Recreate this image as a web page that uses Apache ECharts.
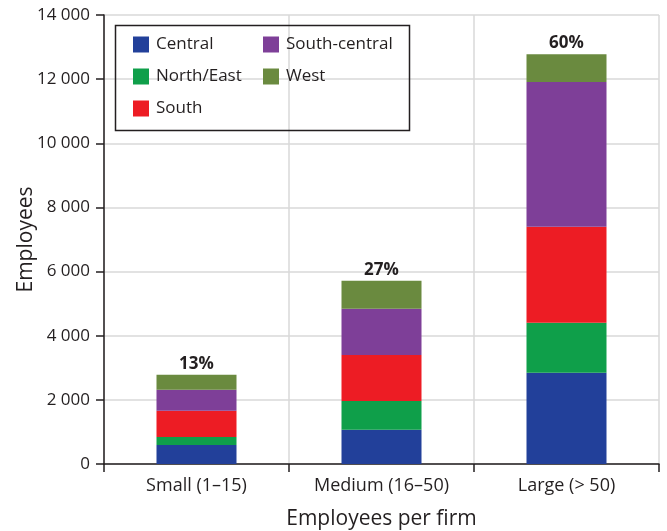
<!DOCTYPE html>
<html>
<head>
<meta charset="utf-8">
<script src="https://cdn.jsdelivr.net/npm/echarts@6/dist/echarts.min.js"></script>
<style>
  html, body { margin: 0; padding: 0; background: #fff; }
  #chart { width: 667px; height: 531px; }
</style>
</head>
<body>
<div id="chart"></div>
<script>
// Firm size classes
const categories = ['Small (1\u201315)', 'Medium (16\u201350)', 'Large (> 50)'];

// Employees by region, per firm size class
const central      = [590, 1070, 2845];
const northEast    = [250, 895, 1560];
const south        = [820, 1435, 2990];
const southCentral = [655, 1440, 4515];
const west         = [465, 870, 870];

// Share of all employees in each size class
const shares = ['13%', '27%', '60%'];

// Y axis ticks
const yMin = 0, yMax = 14000, yStep = 2000;

const FONT = '"Open Sans", "Noto Sans", sans-serif';
const TXT = '#231f20';

const seriesDefs = [
  { name: 'Central', data: central, color: '#22409a' },
  { name: 'North/East', data: northEast, color: '#0f9f4a' },
  { name: 'South', data: south, color: '#ed1c24' },
  { name: 'South-central', data: southCentral, color: '#7e3f98' },
  { name: 'West', data: west, color: '#6a8a3f' }
];

const fmtThousands = v => String(v).replace(/\B(?=(\d{3})+(?!\d))/g, ' ');

const chart = echarts.init(document.getElementById('chart'), null, { renderer: 'canvas' });

const series = seriesDefs.map((s, i) => ({
  name: s.name,
  type: 'bar',
  stack: 'total',
  barWidth: 80,
  data: s.data,
  itemStyle: { color: s.color },
  label: i === seriesDefs.length - 1 ? {
    show: true,
    position: 'top',
    distance: 2,
    formatter: p => shares[p.dataIndex],
    fontFamily: FONT,
    fontSize: 17,
    fontWeight: 'bold',
    color: TXT
  } : { show: false },
  emphasis: { disabled: true }
}));

const legendCommon = {
  orient: 'vertical',
  itemWidth: 16,
  itemHeight: 16,
  itemGap: 15,
  icon: 'rect',
  textStyle: { fontFamily: FONT, fontSize: 17, color: TXT, padding: [0, 0, 0, 2] },
  selectedMode: false
};

chart.setOption({
  animation: false,
  backgroundColor: '#fff',
  grid: { left: 104, right: 8, top: 15, bottom: 67, containLabel: false, outerBoundsMode: 'none' },
  legend: [
    Object.assign({}, legendCommon, { left: 128, top: 31, data: ['Central', 'North/East', 'South'] }),
    Object.assign({}, legendCommon, { left: 258, top: 31, data: ['South-central', 'West'] })
  ],
  graphic: [{
    type: 'rect',
    shape: { x: 115.5, y: 25.5, width: 294, height: 105 },
    style: { fill: 'rgba(0,0,0,0)', stroke: '#231f20', lineWidth: 1.5 },
    z: 100,
    silent: true
  }],
  xAxis: {
    type: 'category',
    data: categories,
    boundaryGap: true,
    name: 'Employees per firm',
    nameLocation: 'middle',
    nameGap: 45,
    nameMoveOverlap: false,
    nameTextStyle: { fontFamily: FONT, fontSize: 21, color: TXT },
    axisLine: { lineStyle: { color: '#231f20', width: 1.5 } },
    axisTick: { show: true, length: 8, lineStyle: { color: '#231f20', width: 1.5 } },
    axisLabel: { fontFamily: FONT, fontSize: 18, color: TXT, margin: 13 },
    splitLine: { show: true, lineStyle: { color: '#d9d9d9', width: 1.5 } }
  },
  yAxis: {
    type: 'value',
    min: yMin,
    max: yMax,
    interval: yStep,
    name: 'Employees',
    nameLocation: 'middle',
    nameGap: 67,
    nameMoveOverlap: false,
    nameTextStyle: { fontFamily: FONT, fontSize: 21, color: TXT },
    axisLine: { show: true, lineStyle: { color: '#231f20', width: 1.5 } },
    axisTick: { show: true, length: 8, lineStyle: { color: '#231f20', width: 1.5 } },
    axisLabel: { fontFamily: FONT, fontSize: 17, color: TXT, margin: 14, formatter: fmtThousands },
    splitLine: { show: true, lineStyle: { color: '#d9d9d9', width: 1.5 } }
  },
  series: series
});
</script>
</body>
</html>
